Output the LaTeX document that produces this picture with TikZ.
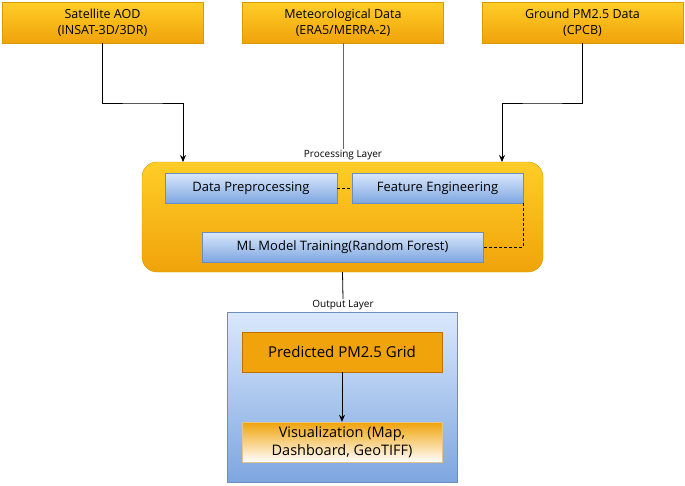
\documentclass[tikz,border=0pt]{standalone}
\usepackage{fontspec}
\setmainfont{Open Sans}
\usetikzlibrary{arrows.meta}
\definecolor{ytop}{HTML}{FFCD28}
\definecolor{ybot}{HTML}{F0A30A}
\definecolor{ystroke}{HTML}{D79B00}
\definecolor{btop}{HTML}{DAE8FC}
\definecolor{bbot}{HTML}{7EA6E0}
\definecolor{bstroke}{HTML}{6C8EBF}
\definecolor{ostroke}{HTML}{BD7000}
\definecolor{vstroke}{HTML}{E3C48A}
\tikzset{
  srcbox/.style={draw=ystroke, top color=ytop, bottom color=ybot, minimum width=201pt, minimum height=41pt, inner sep=0pt, align=center, font=\fontsize{12.5}{16}\selectfont},
  bluebox/.style={draw=bstroke, top color=btop, bottom color=bbot, minimum height=30pt, inner sep=0pt, align=center, font=\fontsize{13}{15}\selectfont},
  layerlbl/.style={font=\fontsize{10}{12}\selectfont, inner sep=1pt},
  arr/.style={-{Stealth[length=7pt,width=6pt]}, line width=0.8pt},
  conn/.style={line width=0.8pt},
  dconn/.style={dashed, dash pattern=on 3pt off 2pt, line width=0.8pt}
}
\begin{document}
\begin{tikzpicture}[x=1pt,y=-1pt]
\useasboundingbox (0,0) rectangle (685,485);
% source boxes
\node[srcbox] (sat) at (102.5,22.5) {Satellite AOD\\(INSAT-3D/3DR)};
\node[srcbox] (met) at (343,22.5) {Meteorological Data\\(ERA5/MERRA-2)};
\node[srcbox] (gnd) at (582.5,22.5) {Ground PM2.5 Data\\(CPCB)};
% processing container
\node[draw=ystroke, top color=ytop, bottom color=ybot, rounded corners=15pt, minimum width=401pt, minimum height=110pt, inner sep=0pt] (proc) at (342.5,217) {};
\node[layerlbl] (proclbl) at (343,155.5) {Processing Layer};
\node[bluebox, minimum width=172pt] (pre) at (251,188) {Data Preprocessing};
\node[bluebox, minimum width=171pt] (feat) at (437.5,188) {Feature Engineering};
\node[bluebox, minimum width=281pt] (ml) at (342.5,247) {ML Model Training(Random Forest)};
% output container
\node[draw=bstroke, top color=btop, bottom color=bbot, minimum width=230pt, minimum height=170pt, inner sep=0pt] (out) at (342,397) {};
\node[layerlbl] (outlbl) at (343,305) {Output Layer};
\node[draw=ostroke, fill=ybot, minimum width=200pt, minimum height=40pt, inner sep=0pt, font=\fontsize{15}{18}\selectfont] (pred) at (342,352) {Predicted PM2.5 Grid};
\node[draw=vstroke, top color=ybot, bottom color=white, minimum width=200pt, minimum height=40pt, inner sep=0pt, align=center, font=\fontsize{14.5}{18}\selectfont] (vis) at (342,442) {Visualization (Map,\\Dashboard, GeoTIFF)};
% connectors
\coordinate (satin) at (183,162);
\coordinate (gndin) at (502,162);
\draw[arr] (sat.south) |- (142.5,103) -| (satin);
\draw[arr] (gnd.south) |- (542.5,103) -| (gndin);
\draw[conn, black!60] (met.south) -- (proclbl.north);
\draw[dconn] (pre.east) -- (feat.west);
\draw[dconn] (feat.south east) |- (ml.east);
\draw[conn] (proc.south) -- (outlbl.north);
\draw[arr] (pred.south) -- (vis.north);
\end{tikzpicture}
\end{document}
